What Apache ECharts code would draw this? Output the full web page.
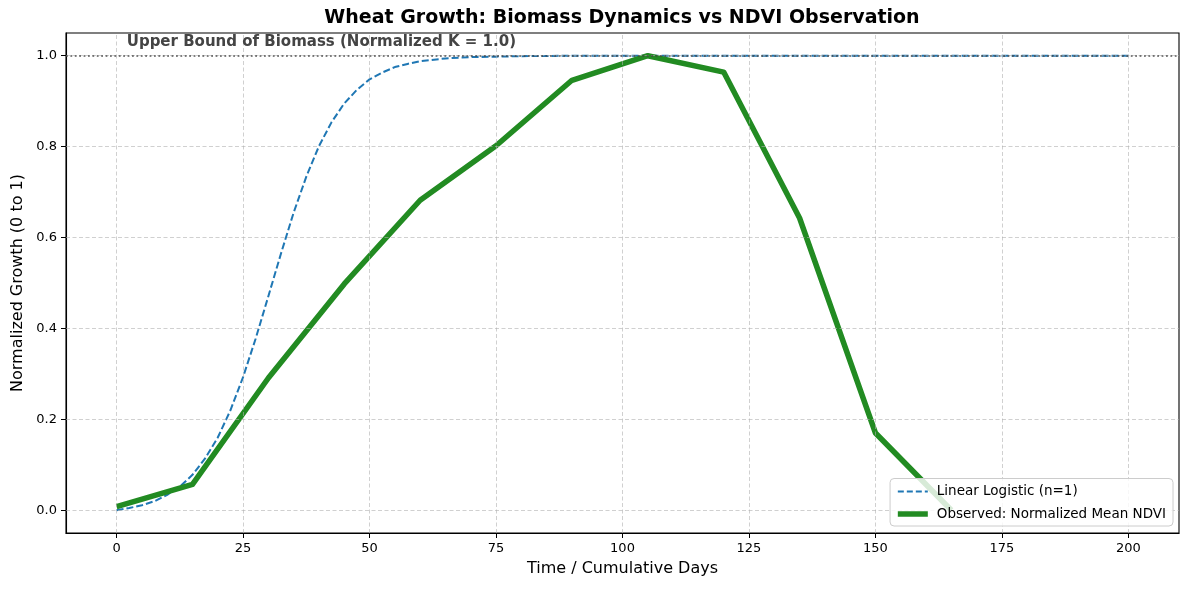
<!DOCTYPE html>
<html>
<head>
<meta charset="utf-8">
<script src="https://cdn.jsdelivr.net/npm/echarts@6/dist/echarts.min.js"></script>
<style>
html,body{margin:0;padding:0;background:#fff;}
#chart{width:1189px;height:590px;}
</style>
</head>
<body>
<div id="chart"></div>
<script>
// ---- data ----
const logisticDays = [0,2.5,5,7.5,10,12.5,15,17.5,20,22.5,25,27.5,30,32.5,35,37.5,40,42.5,45,47.5,50,52.5,55,57.5,60,65,70,75,80,90,100,120,140,160,180,200];
const logisticValues = [0,0.005,0.011,0.020,0.034,0.052,0.078,0.114,0.160,0.220,0.293,0.378,0.471,0.565,0.655,0.734,0.801,0.854,0.895,0.925,0.948,0.963,0.975,0.982,0.988,0.994,0.997,0.998,0.999,1.0,1.0,1.0,1.0,1.0,1.0,1.0];
const observedDays = [0,15,30,45,60,75,90,105,120,135,150,165];
const observedValues = [0.008,0.057,0.291,0.498,0.682,0.802,0.946,1.0,0.964,0.643,0.170,0.0];
const upperBound = 1.0;
const xTicks = [0,25,50,75,100,125,150,175,200];
const yTicks = [0,0.2,0.4,0.6,0.8,1.0];
const annotationAt = [2, 1.02];
const annotationText = 'Upper Bound of Biomass (Normalized K = 1.0)';
const seriesNames = ['Linear Logistic (n=1)', 'Observed: Normalized Mean NDVI'];

const FONT = 'DejaVu Sans';
const chart = echarts.init(document.getElementById('chart'), null, {renderer: 'canvas'});

const gridLineStyle = {color: '#b0b0b0', width: 0.8, type: [4, 2.5], opacity: 0.75};
const blueStyle = {color: '#1f77b4', width: 2, type: [7, 3]};
const greenStyle = {color: '#228b22', width: 5.5, cap: 'butt', join: 'round'};

const option = {
  animation: false,
  backgroundColor: '#fff',
  title: {
    text: 'Wheat Growth: Biomass Dynamics vs NDVI Observation',
    left: 622, top: 9, textAlign: 'center', padding: 0,
    textStyle: {fontFamily: FONT, fontSize: 19, fontWeight: 'bold', color: '#000'}
  },
  grid: {left: 66, right: 10, top: 33, bottom: 57, show: true, borderColor: '#000', borderWidth: 1.1, backgroundColor: 'transparent'},
  legend: {
    z: 20,
    data: [
      {name: seriesNames[0], lineStyle: {width: 2, type: [6, 3], color: '#1f77b4'}},
      {name: seriesNames[1], lineStyle: {width: 5.5, type: 'solid', color: '#228b22'}}
    ],
    orient: 'vertical',
    right: 16, bottom: 64,
    itemWidth: 30, itemHeight: 12, itemGap: 8.5,
    itemStyle: {opacity: 0, borderWidth: 0},
    padding: [6, 7, 5, 5],
    backgroundColor: 'rgba(255,255,255,0.82)',
    borderColor: '#cccccc', borderWidth: 1, borderRadius: 4,
    textStyle: {fontFamily: FONT, fontSize: 13.5, color: '#000', padding: [0, 0, 0, 4]}
  },
  xAxis: {
    type: 'value', min: -10, max: 210,
    name: 'Time / Cumulative Days', nameLocation: 'middle', nameGap: 28,
    nameTextStyle: {fontFamily: FONT, fontSize: 16, color: '#000'},
    axisLine: {show: true, onZero: false, lineStyle: {color: '#000', width: 1.1}},
    axisTick: {show: true, length: 5, customValues: xTicks, lineStyle: {color: '#000'}},
    axisLabel: {customValues: xTicks, margin: 9, fontFamily: FONT, fontSize: 13, color: '#000'},
    splitLine: {show: false}
  },
  yAxis: {
    type: 'value', min: -0.05, max: 1.05,
    name: 'Normalized Growth (0 to 1)', nameLocation: 'middle', nameGap: 40,
    nameTextStyle: {fontFamily: FONT, fontSize: 16, color: '#000'},
    axisLine: {show: true, onZero: false, lineStyle: {color: '#000', width: 1.1}},
    axisTick: {show: true, length: 5, customValues: yTicks, lineStyle: {color: '#000'}},
    axisLabel: {customValues: yTicks, margin: 9, fontFamily: FONT, fontSize: 13, color: '#000',
      formatter: v => v.toFixed(1)},
    splitLine: {show: false}
  },
  series: [
    {
      name: 'grid', type: 'line', data: [], z: 1, silent: true,
      markLine: {
        silent: true, symbol: ['none', 'none'], label: {show: false},
        lineStyle: gridLineStyle, animation: false,
        data: xTicks.map(v => ({xAxis: v})).concat(yTicks.map(v => ({yAxis: v})))
      }
    },
    {
      name: 'bound', type: 'line', data: [], z: 3, silent: true,
      markLine: {
        silent: true, symbol: ['none', 'none'], label: {show: false},
        lineStyle: {color: '#444', width: 1.6, type: [1.8, 2.6], opacity: 0.9},
        data: [{yAxis: upperBound}]
      }
    },
    {
      name: 'annotation', type: 'scatter', z: 5, silent: true,
      data: [annotationAt], symbolSize: 0,
      label: {
        show: true, position: [0, 3], align: 'left', verticalAlign: 'bottom',
        formatter: annotationText,
        fontFamily: FONT, fontSize: 15, fontWeight: 'bold', color: '#444',
        textBorderWidth: 0, textBorderColor: 'transparent', opacity: 1
      }
    },
    {
      name: seriesNames[0], type: 'line', z: 4,
      data: logisticDays.map((d, i) => [d, logisticValues[i]]),
      showSymbol: false, symbol: 'none',
      lineStyle: blueStyle,
      itemStyle: {color: '#1f77b4'}
    },
    {
      name: seriesNames[1], type: 'line', z: 4,
      data: observedDays.map((d, i) => [d, observedValues[i]]),
      showSymbol: false, symbol: 'none',
      lineStyle: greenStyle,
      itemStyle: {color: '#228b22'}
    }
  ]
};
chart.setOption(option);
</script>
</body>
</html>
